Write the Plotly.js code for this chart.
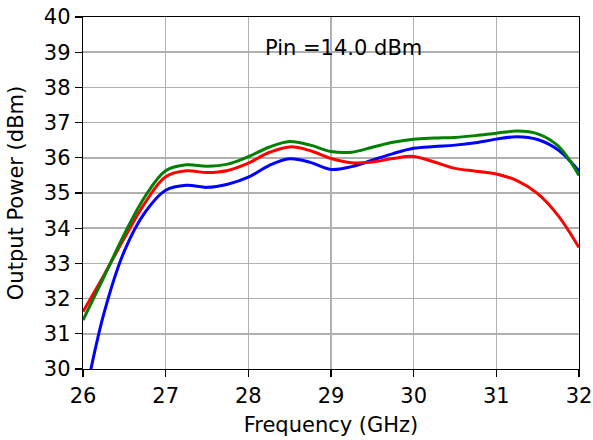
<!DOCTYPE html>
<html>
<head>
<meta charset="utf-8">
<script src="https://cdn.plot.ly/plotly-3.0.1.min.js"></script>
<style>html,body{margin:0;padding:0;background:#fff;}#chart{width:593px;height:440px;}</style>
</head>
<body>
<div id="chart"></div>
<script>
const freq = [26, 26.25, 26.5, 26.75, 27, 27.25, 27.5, 27.75, 28, 28.25, 28.5, 28.75, 29, 29.25, 29.5, 29.75, 30, 30.25, 30.5, 30.75, 31, 31.25, 31.5, 31.75, 32];
const blue = [28.9, 31.55, 33.35, 34.45, 35.08, 35.22, 35.16, 35.25, 35.45, 35.78, 35.97, 35.87, 35.67, 35.75, 35.93, 36.12, 36.27, 36.32, 36.36, 36.43, 36.53, 36.6, 36.52, 36.22, 35.62];
const red = [31.63, 32.65, 33.72, 34.72, 35.46, 35.63, 35.58, 35.64, 35.85, 36.15, 36.31, 36.2, 35.98, 35.86, 35.88, 35.98, 36.04, 35.88, 35.7, 35.62, 35.54, 35.35, 34.98, 34.35, 33.45];
const green = [31.39, 32.6, 33.83, 34.9, 35.63, 35.8, 35.76, 35.82, 36.03, 36.3, 36.46, 36.36, 36.18, 36.16, 36.3, 36.44, 36.53, 36.56, 36.58, 36.63, 36.7, 36.76, 36.68, 36.33, 35.5];
const xTicks = [26, 27, 28, 29, 30, 31, 32];
const yTicks = [30, 31, 32, 33, 34, 35, 36, 37, 38, 39, 40];
const annotationText = 'Pin =14.0 dBm';

const mk = (y, c) => ({x: freq, y: y, mode: 'lines', line: {color: c, width: 3, shape: 'spline', smoothing: 1}, hoverinfo: 'skip'});
const font = {family: 'DejaVu Sans, sans-serif', size: 21, color: '#000'};
const axisBase = {showline: true, linecolor: '#000', linewidth: 1.3, mirror: true, ticks: 'outside', ticklen: 7, tickwidth: 1.3, tickcolor: '#000', showgrid: true, gridcolor: '#b0b0b0', gridwidth: 1.5, zeroline: false, tickfont: font};
const layout = {
  width: 593, height: 440,
  margin: {l: 83, r: 14, t: 17, b: 71},
  paper_bgcolor: '#fff', plot_bgcolor: '#fff',
  showlegend: false,
  font: font,
  xaxis: Object.assign({}, axisBase, {range: [26, 32], tickvals: xTicks, ticktext: xTicks.map(String), title: {text: 'Frequency (GHz)', font: font, standoff: 10}}),
  yaxis: Object.assign({}, axisBase, {range: [30, 40], tickvals: yTicks, ticktext: yTicks.map(String), title: {text: 'Output Power (dBm)', font: font, standoff: 14}}),
  annotations: [{x: 29.15, y: 39.13, xref: 'x', yref: 'y', text: annotationText, showarrow: false, font: font}]
};
Plotly.newPlot('chart', [mk(blue, '#0000ff'), mk(red, '#ff0000'), mk(green, '#008000')], layout, {staticPlot: true});
</script>
</body>
</html>
